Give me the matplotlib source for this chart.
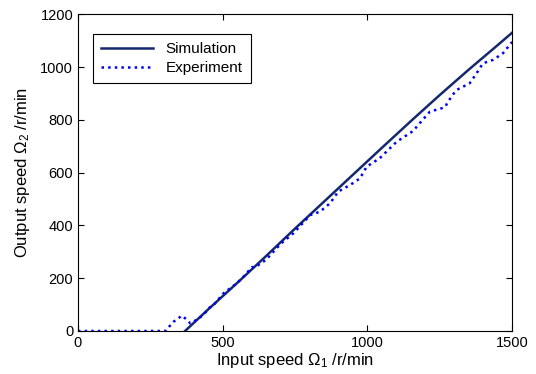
import matplotlib
matplotlib.use('Agg')
import matplotlib.pyplot as plt

plt.rcParams['font.family'] = ['Liberation Sans', 'DejaVu Sans']
plt.rcParams['mathtext.fontset'] = 'custom'
plt.rcParams['mathtext.rm'] = 'Liberation Sans'
plt.rcParams['mathtext.it'] = 'Liberation Sans:italic'

# Simulation curve (input speed vs output speed)
sim_x = [370, 450, 550, 650, 750, 850, 950, 1050, 1150, 1250, 1350, 1450, 1500]
sim_y = [0, 82, 182, 284, 388, 490, 592, 694, 795, 894, 990, 1083, 1130]

# Experimental curve
exp_x = [0, 100, 200, 302, 313, 330, 359, 377, 388, 399, 434, 451, 468, 503, 549,
         572, 601, 610, 650, 700, 744, 802, 836, 871, 899, 940, 974, 997, 1043,
         1101, 1157, 1190, 1216, 1267, 1290, 1308, 1353, 1377, 1399, 1434, 1468, 1500]
exp_y = [0, 0, 0, 0, 14, 35, 58, 42, 29, 35, 61, 86, 98, 143, 181,
         206, 242, 240, 270, 330, 370, 439, 452, 484, 528, 553, 578, 622, 655,
         717, 757, 799, 831, 847, 888, 913, 938, 976, 1014, 1027, 1052, 1095]


def plot_speed(ax):
    ax.plot(sim_x, sim_y, color='#14286e', linewidth=1.8, label='Simulation')
    ax.plot(exp_x, exp_y, color='#0000ff', linewidth=1.8, linestyle=':', label='Experiment')

    ax.set_xlim(0, 1500)
    ax.set_ylim(0, 1200)
    ax.set_xticks([0, 500, 1000, 1500])
    ax.set_yticks([0, 200, 400, 600, 800, 1000, 1200])
    ax.tick_params(direction='in', top=True, right=True, labelsize=10.5, length=4)
    ax.set_xlabel(r'Input speed $\mathrm{\Omega}_1$ /r/min', fontsize=12, labelpad=1)
    ax.set_ylabel(r'Output speed $\mathrm{\Omega}_2$ /r/min', fontsize=12, labelpad=6)
    for s in ax.spines.values():
        s.set_linewidth(0.8)
    leg = ax.legend(loc='upper left', bbox_to_anchor=(0.017, 0.962), fontsize=11,
                    fancybox=False, framealpha=1, edgecolor='black',
                    handlelength=3.4, borderpad=0.55, labelspacing=0.3)
    leg.get_frame().set_linewidth(0.8)


def main():
    fig = plt.figure(figsize=(5.36, 3.74), dpi=100)
    ax = fig.add_axes([0.1455, 0.115, 0.81, 0.847])
    plot_speed(ax)
    fig.savefig('out.png', dpi=100)


if __name__ == "__main__":
    main()
